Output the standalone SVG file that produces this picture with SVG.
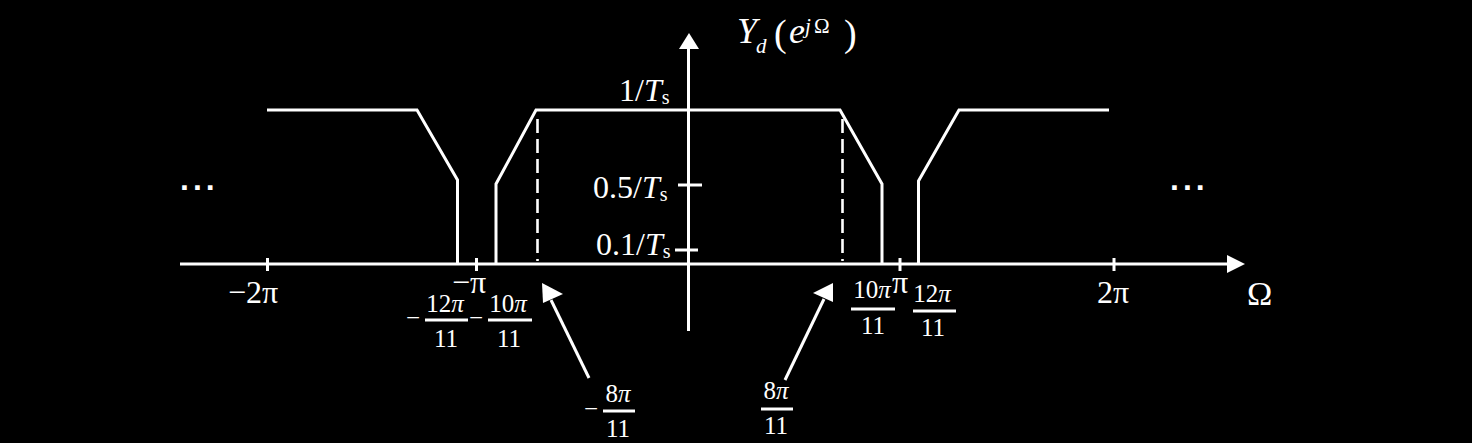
<svg xmlns="http://www.w3.org/2000/svg" width="1472" height="443" viewBox="0 0 1472 443">
<style>
.ln{stroke:#fff;stroke-width:3;fill:none;stroke-linejoin:miter}
.dash{stroke:#fff;stroke-width:2.6;fill:none;stroke-dasharray:14 6}
.hd{fill:#fff;stroke:none}
text{font-family:"Liberation Serif","Times New Roman",serif;fill:#fff}
.lab{font-size:32px}
.fr{font-size:25px;text-anchor:middle}
.mi{font-size:25px}
.it{font-style:italic}
.dots{font-family:"Liberation Sans",Arial,sans-serif;font-weight:bold;font-size:32px;letter-spacing:4px}
</style>
<rect width="1472" height="443" fill="#000"/>
<g id="axes">
<line class="ln" x1="180" y1="264" x2="1229" y2="264"/>
<polygon class="hd" points="1227,255 1245,264 1227,273"/>
<line class="ln" x1="688.5" y1="331" x2="688.5" y2="47"/>
<polygon class="hd" points="679,49 689,33 699,49"/>
<line class="ln" x1="267.5" y1="258" x2="267.5" y2="271"/>
<line class="ln" x1="476.5" y1="258" x2="476.5" y2="271"/>
<line class="ln" x1="900" y1="258" x2="900" y2="271"/>
<line class="ln" x1="1114" y1="258" x2="1114" y2="271"/>
<line class="ln" x1="678" y1="185" x2="702" y2="185"/>
<line class="ln" x1="675" y1="250" x2="698" y2="250"/>
</g>
<g id="spectrum">
<polyline class="ln" points="267,110 417,110 457.5,180 457.5,264"/>
<polyline class="ln" points="496,264 496,184 536,110 840,110 882,184 882,264"/>
<polyline class="ln" points="918.5,264 918.5,181 959,110 1109,110"/>
<line class="dash" x1="537.5" y1="119" x2="537.5" y2="261"/>
<line class="dash" x1="842.5" y1="119" x2="842.5" y2="261"/>
</g>
<g id="connectors">
<line class="ln" x1="589" y1="378" x2="551" y2="300"/>
<polygon class="hd" points="542,283 563,294 543,303"/>
<line class="ln" x1="785" y1="380" x2="824" y2="299"/>
<polygon class="hd" points="833,283 813,293 833,302"/>
</g>
<g id="title">
<text x="737" y="43" font-size="36" class="it">Y</text>
<text x="756" y="53" font-size="21" class="it">d</text>
<text x="774" y="46" font-size="38">(</text>
<text x="789" y="43" font-size="36" class="it">e</text>
<text x="805" y="33" font-size="21" class="it">j</text>
<text x="814" y="33" font-size="21">Ω</text>
<text x="844" y="46" font-size="38">)</text>
</g>
<g id="y-labels">
<text class="lab" x="619" y="101">1/<tspan class="it">T</tspan><tspan font-size="20" dy="3">s</tspan></text>
<text class="lab" x="593" y="198">0.5/<tspan class="it">T</tspan><tspan font-size="20" dy="3">s</tspan></text>
<text class="lab" x="596" y="255">0.1/<tspan class="it">T</tspan><tspan font-size="20" dy="3">s</tspan></text>
</g>
<g id="x-labels">
<text class="lab" x="228" y="303">−2π</text>
<text class="lab" x="452" y="293">−π</text>
<text class="lab" x="892" y="293">π</text>
<text class="lab" x="1097" y="303">2π</text>
<text x="1247" y="305" font-size="34">Ω</text>
</g>
<g id="fractions">
<text class="mi" x="406" y="326">−</text>
<text class="fr" x="445" y="312">12<tspan class="it">π</tspan></text>
<line class="ln" x1="425" y1="320" x2="468" y2="320" stroke-width="2"/>
<text class="fr" x="446" y="347">11</text>
<text class="mi" x="469" y="326">−</text>
<text class="fr" x="508" y="312">10<tspan class="it">π</tspan></text>
<line class="ln" x1="488" y1="320" x2="532" y2="320" stroke-width="2"/>
<text class="fr" x="509" y="347">11</text>
<text class="fr" x="872" y="298">10<tspan class="it">π</tspan></text>
<line class="ln" x1="851" y1="309" x2="895" y2="309" stroke-width="2"/>
<text class="fr" x="873" y="334">11</text>
<text class="fr" x="932" y="302">12<tspan class="it">π</tspan></text>
<line class="ln" x1="913" y1="311" x2="956" y2="311" stroke-width="2"/>
<text class="fr" x="933" y="336">11</text>
<text class="fr" x="776" y="399">8<tspan class="it">π</tspan></text>
<line class="ln" x1="761" y1="409" x2="793" y2="409" stroke-width="2"/>
<text class="fr" x="776" y="434">11</text>
<text class="mi" x="584" y="417">−</text>
<text class="fr" x="618" y="402">8<tspan class="it">π</tspan></text>
<line class="ln" x1="603" y1="411" x2="635" y2="411" stroke-width="2"/>
<text class="fr" x="618" y="437">11</text>
</g>
<g id="ellipses">
<text class="dots" x="180" y="190">...</text>
<text class="dots" x="1170" y="190">...</text>
</g>
</svg>
